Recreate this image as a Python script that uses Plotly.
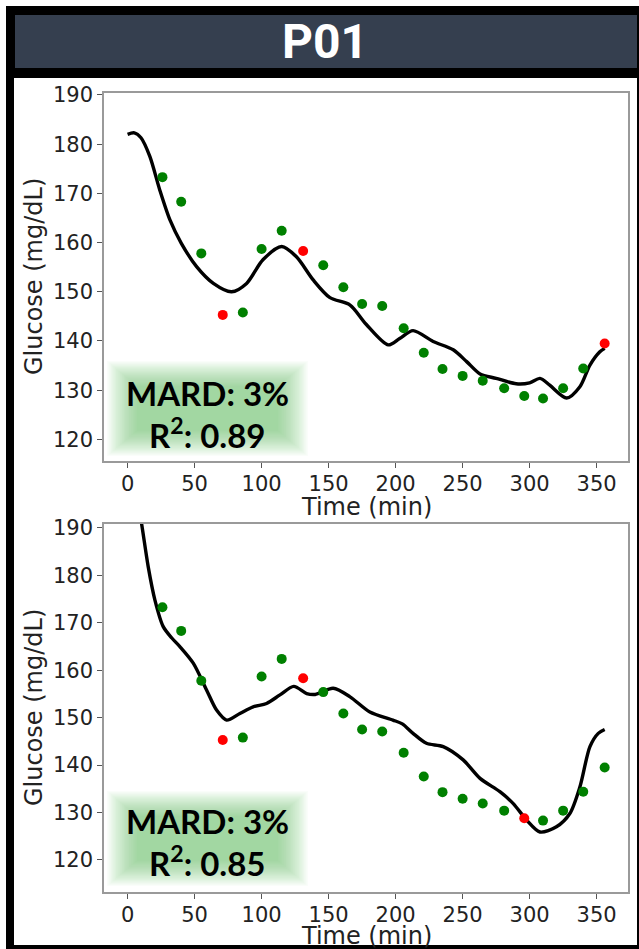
import plotly.graph_objects as go

# Reference (finger-stick) glucose readings, shared by both panels
ref_time = [26, 40, 55, 71, 86, 100, 115, 131, 146, 161, 175, 190,
            206, 221, 235, 250, 265, 281, 296, 310, 325, 340, 356]
ref_glucose = [173.3, 168.3, 157.8, 145.3, 145.8, 158.7, 162.4, 158.3, 155.4, 150.9, 147.5, 147.1,
               142.6, 137.6, 134.3, 132.9, 131.9, 130.4, 128.8, 128.3, 130.4, 134.4, 139.5]

# Point status (True = outside tolerance, drawn red)
top_outlier = [False, False, False, True, False, False, False, True, False, False, False, False,
               False, False, False, False, False, False, False, False, False, False, True]
bottom_outlier = [False, False, False, True, False, False, False, True, False, False, False, False,
                  False, False, False, False, False, False, True, False, False, False, False]

# Estimated glucose traces
top_curve_time = [0, 5, 10, 16.6, 24, 31.6, 40, 51.5, 64, 77.6, 88.8, 101, 115, 126, 138.5, 151,
                  166, 178, 194.5, 203, 213, 228, 243, 253, 263, 275, 290, 300, 307.7, 315,
                  327.6, 337.5, 345, 352.4, 356]
top_curve_glucose = [182, 182.3, 181.3, 177.5, 170.7, 164.6, 159.9, 155.1, 151.7, 150.0, 151.7, 156.5,
                     159.2, 157.1, 152.4, 148.8, 147.3, 143.4, 139.2, 140.5, 142.1, 139.9, 138.2, 135.8,
                     133.3, 132.4, 131.3, 131.5, 132.4, 131, 128.4, 130.7, 135.1, 137.8, 138.5]

bottom_curve_time = [0, 5, 10.4, 15.4, 20.4, 26.6, 33, 39, 49, 59, 66.4, 73.9, 83.8, 93.7, 103.7,
                     113.7, 124, 133.6, 140, 153.4, 166, 180.8, 198, 205, 213, 223, 235.5, 250.4,
                     263, 277.8, 287.8, 297.8, 307.7, 320, 330, 337.5, 345, 351.2, 356]
bottom_curve_glucose = [208, 200, 191, 181.8, 174.8, 169.2, 166.8, 165, 161.5, 155.8, 151.6, 149.5,
                        150.9, 152.3, 153, 154.8, 156.6, 155.1, 154.9, 156.2, 154.4, 151.2, 149.5,
                        148.7, 146.7, 144.6, 143.9, 141.1, 137.2, 134.4, 131.9, 128.4, 125.9, 127,
                        129.8, 135.4, 143.9, 146.7, 147.5]

panel_title = "P01"
metrics_top = ["MARD: 3%", "R<sup>2</sup>: 0.89"]
metrics_bottom = ["MARD: 3%", "R<sup>2</sup>: 0.85"]
x_ticks = [0, 50, 100, 150, 200, 250, 300, 350]
y_ticks = [120, 130, 140, 150, 160, 170, 180, 190]

W, H = 639, 949


def px(x):
    return x / W


def py(y):
    return 1 - y / H


fig = go.Figure()

GREEN = "#008000"
RED = "#ff0000"

for axis_id, curve_t, curve_g, outliers in [
    ("", top_curve_time, top_curve_glucose, top_outlier),
    ("2", bottom_curve_time, bottom_curve_glucose, bottom_outlier),
]:
    fig.add_trace(go.Scatter(
        x=curve_t, y=curve_g, mode="lines",
        line=dict(color="black", width=3.4, shape="spline", smoothing=0.8),
        xaxis="x" + axis_id, yaxis="y" + axis_id, showlegend=False,
        cliponaxis=True,
    ))
    fig.add_trace(go.Scatter(
        x=ref_time, y=ref_glucose, mode="markers",
        marker=dict(size=10, color=[RED if o else GREEN for o in outliers], line=dict(width=0)),
        xaxis="x" + axis_id, yaxis="y" + axis_id, showlegend=False,
    ))

axis_common = dict(
    showline=True, mirror=True, linecolor="#9a9a9a", linewidth=1.5,
    ticks="outside", ticklen=5, tickwidth=1.2, tickcolor="#555",
    showgrid=False, zeroline=False, automargin=False,
    tickfont=dict(family="DejaVu Sans", size=21, color="#222222"),
)

x_dom = [px(104), px(628)]
fig.update_layout(
    template="none",
    width=W, height=H,
    margin=dict(l=0, r=0, t=0, b=0, pad=0, autoexpand=False),
    paper_bgcolor="white", plot_bgcolor="rgba(0,0,0,0)",
    xaxis=dict(domain=x_dom, range=[-17.6, 373.4], tickvals=x_ticks, anchor="y",
               ticklabelstandoff=-2, **axis_common),
    yaxis=dict(domain=[py(461), py(93)], range=[115.6, 190.4], tickvals=y_ticks, anchor="x", **axis_common),
    xaxis2=dict(domain=x_dom, range=[-17.6, 373.4], tickvals=x_ticks, anchor="y2",
                ticklabelstandoff=-2, **axis_common),
    yaxis2=dict(domain=[py(892), py(524)], range=[113.25, 190.84], tickvals=y_ticks, anchor="x2", **axis_common),
)

shapes = []


def rect(x0, y0, x1, y1, color, layer="below"):
    return dict(type="rect", xref="paper", yref="paper",
                x0=px(x0), x1=px(x1), y0=py(y1), y1=py(y0),
                fillcolor=color, line=dict(width=0), layer=layer)


# Frame, header band and white panel
shapes.append(rect(6, 6, 639, 949, "black"))
shapes.append(rect(15, 15, 637, 68, "#353f4f"))
shapes.append(rect(14, 78, 637, 945, "white"))

# Soft green glow behind the metric labels
for (bx0, by0, bx1, by1) in [(107, 361, 308, 456), (107, 791, 308, 886)]:
    n = 24
    for i in range(n):
        dx = i * 1.3
        dy = i * 1.1
        shapes.append(rect(bx0 + dx, by0 + dy, bx1 - dx, by1 - dy, "rgba(90,195,110,0.032)"))

fig.update_layout(shapes=shapes)

annotations = []


def text(x, y, s, size, color="#222222", family="DejaVu Sans", angle=0, weight=400):
    annotations.append(dict(
        x=px(x), y=py(y), xref="paper", yref="paper", text=s, showarrow=False,
        xanchor="center", yanchor="middle", textangle=angle,
        font=dict(family=family, size=size, color=color, weight=weight),
    ))


text(325, 41, panel_title, 48, color="white", family="Roboto", weight=700)

text(366, 507, "Time (min)", 24)
text(366, 936, "Time (min)", 24)
text(34, 277, "Glucose (mg/dL)", 24, angle=-90)
text(34, 708, "Glucose (mg/dL)", 24, angle=-90)

text(207, 393, metrics_top[0], 33, color="black", family="Lato", weight=700)
text(207, 433, metrics_top[1], 33, color="black", family="Lato", weight=700)
text(207, 821, metrics_bottom[0], 33, color="black", family="Lato", weight=700)
text(207, 861, metrics_bottom[1], 33, color="black", family="Lato", weight=700)

fig.update_layout(annotations=annotations)

fig.write_html("out.html", post_script="document.body.style.margin='0';")
